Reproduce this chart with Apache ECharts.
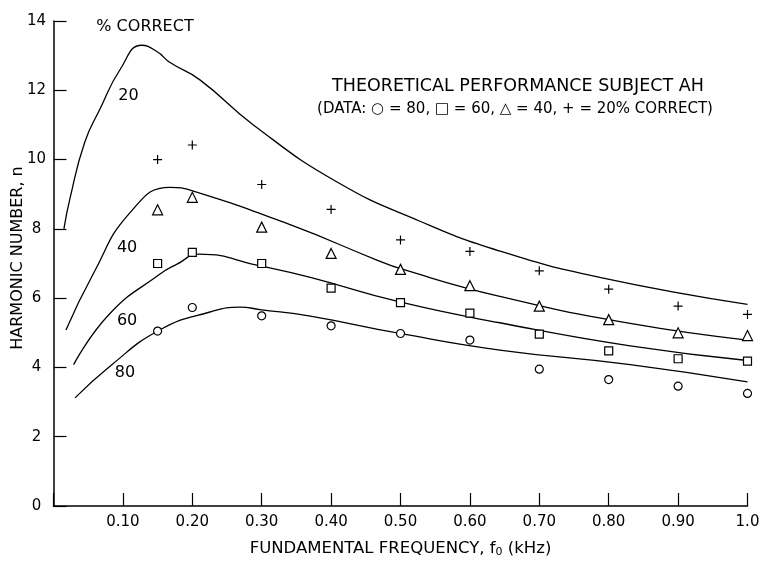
<!DOCTYPE html>
<html>
<head>
<meta charset="utf-8">
<script src="https://cdn.jsdelivr.net/npm/echarts@6/dist/echarts.min.js"></script>
<style>
  html, body { margin: 0; padding: 0; background: #fff; }
  #chart { width: 763px; height: 563px; }
</style>
</head>
<body>
<div id="chart"></div>
<script>
// Fundamental frequency (kHz) at which subjects were tested
const testFreqs = [0.15, 0.20, 0.30, 0.40, 0.50, 0.60, 0.70, 0.80, 0.90, 1.00];

// Measured harmonic numbers, one list per percent-correct level
const data20 = [10.0, 10.42, 9.28, 8.56, 7.68, 7.35, 6.79, 6.26, 5.77, 5.53];
const data40 = [8.55, 8.91, 8.05, 7.29, 6.83, 6.36, 5.77, 5.38, 5.00, 4.92];
const data60 = [7.00, 7.32, 7.00, 6.29, 5.87, 5.57, 4.96, 4.48, 4.25, 4.18];
const data80 = [5.05, 5.73, 5.49, 5.20, 4.98, 4.79, 3.95, 3.65, 3.46, 3.25];

// Theoretical performance curves: [frequency, harmonic number]
const theory20 = [[0.015, 8.0], [0.024, 8.9], [0.045, 10.5], [0.067, 11.46], [0.096, 12.6],
  [0.127, 13.3], [0.149, 13.12], [0.168, 12.8], [0.211, 12.3], [0.288, 11.0],
  [0.408, 9.36], [0.528, 8.22], [0.643, 7.36], [0.787, 6.6], [1.0, 5.82]];
const theory40 = [[0.018, 5.08], [0.057, 6.69], [0.110, 8.46], [0.168, 9.2],
  [0.2015, 9.09], [0.341, 8.12], [0.466, 7.1], [0.5, 6.85], [0.643, 6.05],
  [0.831, 5.27], [1.0, 4.79]];
const theory60 = [[0.029, 4.08], [0.081, 5.55], [0.153, 6.69], [0.178, 6.98], [0.21, 7.27],
  [0.2975, 6.93], [0.37, 6.6], [0.499, 5.89], [0.643, 5.29], [0.831, 4.62], [1.0, 4.2]];
const theory80 = [[0.031, 3.12], [0.081, 4.03], [0.153, 5.08], [0.2255, 5.6], [0.269, 5.74],
  [0.2975, 5.67], [0.37, 5.48], [0.499, 4.98], [0.643, 4.5], [0.831, 4.08], [1.0, 3.58]];

// Curve annotations (percent correct) and where they sit in data units
const curveNames = ['20', '40', '60', '80'];
const curveNameX = [0.108, 0.106, 0.106, 0.103];
const curveNameY = [11.83, 7.46, 5.34, 3.84];

// Axis tick labels
const xTickLabels = ['0.10', '0.20', '0.30', '0.40', '0.50', '0.60', '0.70', '0.80', '0.90', '1.0'];
const yTickLabels = ['0', '2', '4', '6', '8', '10', '12', '14'];

const FONT = '"DejaVu Sans", sans-serif';
const INK = '#000';

function pairs(xs, ys) { return xs.map((x, i) => [x, ys[i]]); }

function curve(points) {
  return {
    type: 'line', data: points, showSymbol: false, smooth: 0.5,
    silent: true, z: 2,
    lineStyle: { color: INK, width: 1.3 }
  };
}

function markers(values, symbol, size) {
  return {
    type: 'scatter', data: pairs(testFreqs, values), symbol: symbol,
    symbolSize: size, silent: true, z: 3,
    itemStyle: { color: '#fff', borderColor: INK, borderWidth: 1.2, opacity: 1 }
  };
}

const chart = echarts.init(document.getElementById('chart'), null, { renderer: 'canvas' });

chart.setOption({
  animation: false,
  backgroundColor: '#fff',
  grid: { left: 53.5, right: 15.5, top: 21, bottom: 52, containLabel: false },
  xAxis: {
    type: 'value', min: 0, max: 1, interval: 0.1,
    axisLine: { lineStyle: { color: INK, width: 1.5 } },
    axisTick: { inside: true, length: 13, lineStyle: { color: INK, width: 1.2 } },
    splitLine: { show: false },
    axisLabel: {
      margin: 9, color: INK, fontFamily: FONT, fontSize: 15,
      formatter: v => { const i = Math.round(v * 10) - 1; return i >= 0 ? xTickLabels[i] : ''; }
    },
    name: 'FUNDAMENTAL FREQUENCY, f{sub|0} (kHz)',
    nameLocation: 'middle', nameGap: 33,
    nameTextStyle: {
      color: INK, fontFamily: FONT, fontSize: 16.5,
      rich: { sub: { fontFamily: FONT, fontSize: 11, color: INK, verticalAlign: 'bottom', padding: [8, 0, 0, 0] } }
    }
  },
  yAxis: {
    type: 'value', min: 0, max: 14, interval: 2,
    axisLine: { lineStyle: { color: INK, width: 1.5 } },
    axisTick: { inside: true, length: 13, lineStyle: { color: INK, width: 1.2 } },
    splitLine: { show: false },
    axisLabel: {
      margin: 17, align: 'center', color: INK, fontFamily: FONT, fontSize: 15,
      formatter: v => yTickLabels[Math.round(v / 2)]
    }
  },
  graphic: [
    {
      type: 'text', x: 18, y: 258, rotation: Math.PI / 2,
      style: { text: 'HARMONIC NUMBER, n', font: '16px ' + FONT, fill: INK, align: 'center', verticalAlign: 'middle' }
    },
    {
      type: 'text', x: 518, y: 86,
      style: { text: 'THEORETICAL PERFORMANCE SUBJECT AH', font: '17.5px ' + FONT, fill: INK, align: 'center', verticalAlign: 'middle' }
    },
    {
      type: 'text', x: 515, y: 109,
      style: { text: '(DATA: \u25CB = 80, \u25A1 = 60, \u25B3 = 40, + = 20% CORRECT)', font: '15px ' + FONT, fill: INK, align: 'center', verticalAlign: 'middle' }
    },
    {
      type: 'text', x: 145, y: 27,
      style: { text: '% CORRECT', font: '16px ' + FONT, fill: INK, align: 'center', verticalAlign: 'middle' }
    }
  ],
  series: [
    curve(theory20), curve(theory40), curve(theory60), curve(theory80),
    markers(data80, 'circle', 8),
    markers(data60, 'rect', 8),
    markers(data40, 'triangle', 10),
    {
      type: 'scatter', data: pairs(testFreqs, data20),
      symbol: 'path://M0,5L10,5M5,0L5,10', symbolSize: 9, silent: true, z: 3,
      itemStyle: { color: 'none', borderColor: INK, borderWidth: 1.2, opacity: 1 }
    },
    {
      type: 'scatter', silent: true, symbolSize: 0, z: 4,
      itemStyle: { opacity: 1 },
      data: curveNames.map((n, i) => ({ value: [curveNameX[i], curveNameY[i]], name: n })),
      label: {
        show: true, position: 'inside', formatter: p => p.name,
        color: INK, fontFamily: FONT, fontSize: 16,
        textBorderWidth: 0, textBorderColor: 'transparent'
      }
    }
  ]
});
</script>
</body>
</html>
